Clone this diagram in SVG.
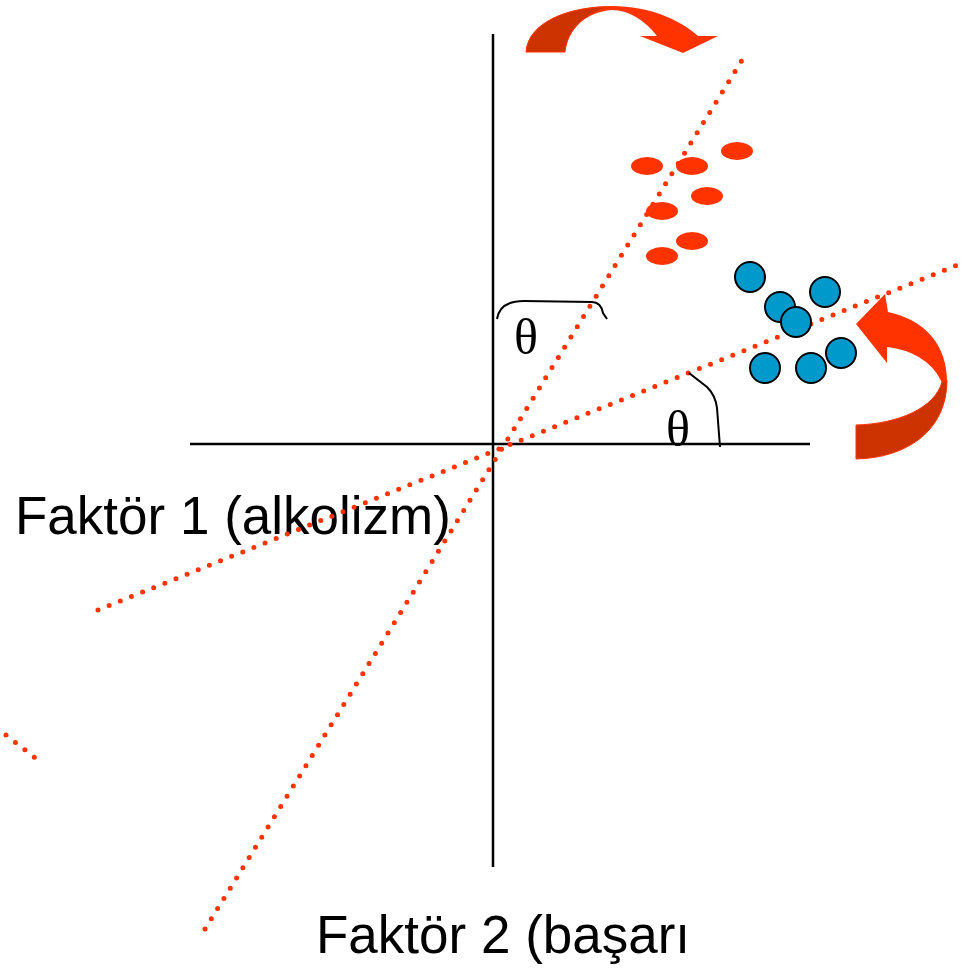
<svg xmlns="http://www.w3.org/2000/svg" width="965" height="972" viewBox="0 0 965 972">
<style>
.lbl{font-family:"Liberation Sans",Arial,sans-serif;font-size:53px;fill:#000}
.th{font-family:"Liberation Serif","Times New Roman",serif;font-size:50px;fill:#000;text-anchor:middle}
.axis{stroke:#000;stroke-width:2.5;fill:none}
.dot{stroke:#FF3300;stroke-width:5;stroke-linecap:round;stroke-dasharray:0 12;fill:none}
.arc{stroke:#000;stroke-width:2;fill:none}
.ell{fill:#FF3300}
.circ{fill:#0099CC;stroke:#000;stroke-width:2}
.bright{fill:#FF3300}
.dark{fill:#CC3300;stroke:#FF3300;stroke-width:1}
</style>
<rect width="965" height="972" fill="#fff"/>
<g id="labels">
<text class="lbl" x="15" y="534">Faktör 1 (alkolizm)</text>
<text class="lbl" x="316" y="953">Faktör 2 (başarı</text>
</g>
<g id="connectors">
<line class="axis" x1="493" y1="34" x2="493" y2="867"/>
<line class="axis" x1="190" y1="444" x2="810" y2="444"/>
<line class="dot" x1="205" y1="929" x2="744" y2="57"/>
<line class="dot" x1="98" y1="610" x2="960" y2="264"/>
<line class="dot" x1="6" y1="735" x2="35.5" y2="758.2"/>
</g>
<g id="angle1">
<path class="arc" d="M497,319 C499,305 510,301 524,301 L592,302 C600,302 602,308 603,313 L607,319"/>
<text class="th" x="526" y="354">θ</text>
</g>
<g id="angle2">
<path class="arc" d="M689,373 L707,387 C713,393 716,399 717,408 L720,447"/>
<text class="th" x="678" y="446">θ</text>
</g>
<g id="red-cluster">
<ellipse class="ell" cx="647" cy="166" rx="16" ry="9"/>
<ellipse class="ell" cx="692" cy="166" rx="16" ry="9"/>
<ellipse class="ell" cx="737" cy="151" rx="16" ry="9"/>
<ellipse class="ell" cx="707" cy="196" rx="16" ry="9"/>
<ellipse class="ell" cx="662" cy="211" rx="16" ry="9"/>
<ellipse class="ell" cx="692" cy="241" rx="16" ry="9"/>
<ellipse class="ell" cx="662" cy="256" rx="16" ry="9"/>
</g>
<g id="blue-cluster">
<circle class="circ" cx="750" cy="277" r="15"/>
<circle class="circ" cx="825" cy="292" r="15"/>
<circle class="circ" cx="780" cy="307" r="15"/>
<circle class="circ" cx="796" cy="322" r="15"/>
<circle class="circ" cx="765" cy="368" r="15"/>
<circle class="circ" cx="811" cy="368" r="15"/>
<circle class="circ" cx="841" cy="353" r="15"/>
</g>
<g id="arrow-top">
<path class="bright" d="M526,52 C528,22 570,6 612,6 C650,6 680,20 698,36 L718,36 L683,53 L640,36 L657,36 C645,20 628,10 612,10 C585,12 567,30 565,52 Z"/>
<path class="dark" d="M526,52 C528,22 570,6 611,7 C585,12 567,30 565,52 Z"/>
</g>
<g id="arrow-right">
<path class="bright" d="M887,363 L856,324 L885,294 L888,312 C925,320 947,345 947,381 L942,383 C935,365 915,350 887,347 Z"/>
<path class="dark" d="M947,380 C947,432 905,458 856,459 L856,425 C898,424 935,408 942,382 Z"/>
</g>
</svg>
